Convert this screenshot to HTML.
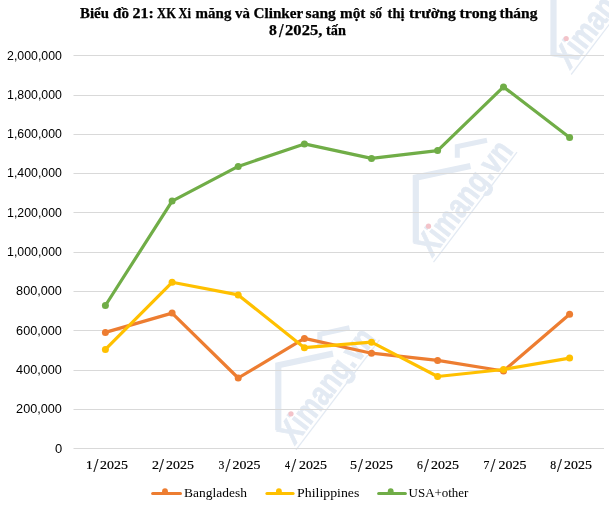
<!DOCTYPE html>
<html lang="vi"><head><meta charset="utf-8"><title>Biểu đồ 21</title><style>
html,body{margin:0;padding:0;background:#fff;}
body{width:609px;height:509px;overflow:hidden;position:relative;}
svg{position:absolute;left:0;top:0;display:block;will-change:transform;}
.t{font-family:"Liberation Serif",serif;font-weight:bold;font-size:14px;fill:#000;stroke:#000;stroke-width:0.25px;}
.yl{font-family:"Liberation Sans",sans-serif;font-size:12.5px;fill:#000;}
.xl{font-family:"Liberation Serif",serif;font-size:13.3px;fill:#000;stroke:#000;stroke-width:0.2px;}
.sl{font-size:18px;}
.wm{font-family:"Liberation Sans",sans-serif;font-weight:bold;font-size:34px;fill:#e3eaf3;stroke:#e3eaf3;stroke-width:0.8px;}
.lg{font-family:"Liberation Serif",serif;font-size:13px;fill:#000;}
</style></head><body>
<svg width="609" height="509" viewBox="0 0 609 509">
<rect width="609" height="509" fill="#fff"/>
<g transform="translate(291.0,413.8)">
<polyline points="-12.7,16.5 -12.7,-48.6 42,-60.2" fill="none" stroke="#e3eaf3" stroke-width="6.2" stroke-linejoin="miter"/>
<polyline points="28.8,-68.5 28.8,-79.6 58.5,-86" fill="none" stroke="#e3eaf3" stroke-width="5" stroke-linejoin="miter"/>
<line x1="5.0" y1="36.0" x2="88.5" y2="-74.0" stroke="#e3eaf3" stroke-width="1.3"/>
<text transform="translate(3.5,32.1) rotate(-52.5)" class="wm" textLength="135" lengthAdjust="spacingAndGlyphs">Ximang.vn</text>
<circle cx="0" cy="0" r="2.6" fill="#f3c3c9"/>
</g>
<g transform="translate(428.5,226.2)">
<polyline points="-12.7,16.5 -12.7,-48.6 42,-60.2" fill="none" stroke="#e3eaf3" stroke-width="6.2" stroke-linejoin="miter"/>
<polyline points="28.8,-68.5 28.8,-79.6 58.5,-86" fill="none" stroke="#e3eaf3" stroke-width="5" stroke-linejoin="miter"/>
<line x1="5.0" y1="36.0" x2="88.5" y2="-74.0" stroke="#e3eaf3" stroke-width="1.3"/>
<text transform="translate(3.5,32.1) rotate(-52.5)" class="wm" textLength="135" lengthAdjust="spacingAndGlyphs">Ximang.vn</text>
<circle cx="0" cy="0" r="2.6" fill="#f3c3c9"/>
</g>
<g transform="translate(566.2,38.5)">
<polyline points="-12.7,16.5 -12.7,-48.6 42,-60.2" fill="none" stroke="#e3eaf3" stroke-width="6.2" stroke-linejoin="miter"/>
<polyline points="28.8,-68.5 28.8,-79.6 58.5,-86" fill="none" stroke="#e3eaf3" stroke-width="5" stroke-linejoin="miter"/>
<line x1="5.0" y1="36.0" x2="88.5" y2="-74.0" stroke="#e3eaf3" stroke-width="1.3"/>
<text transform="translate(3.5,32.1) rotate(-52.5)" class="wm" textLength="135" lengthAdjust="spacingAndGlyphs">Ximang.vn</text>
<circle cx="0" cy="0" r="2.6" fill="#f3c3c9"/>
</g>

<line x1="73.5" y1="448.5" x2="604.0" y2="448.5" stroke="#D9D9D9" stroke-width="1"/>
<line x1="73.5" y1="409.5" x2="604.0" y2="409.5" stroke="#D9D9D9" stroke-width="1"/>
<line x1="73.5" y1="370.5" x2="604.0" y2="370.5" stroke="#D9D9D9" stroke-width="1"/>
<line x1="73.5" y1="330.5" x2="604.0" y2="330.5" stroke="#D9D9D9" stroke-width="1"/>
<line x1="73.5" y1="291.5" x2="604.0" y2="291.5" stroke="#D9D9D9" stroke-width="1"/>
<line x1="73.5" y1="252.5" x2="604.0" y2="252.5" stroke="#D9D9D9" stroke-width="1"/>
<line x1="73.5" y1="212.5" x2="604.0" y2="212.5" stroke="#D9D9D9" stroke-width="1"/>
<line x1="73.5" y1="173.5" x2="604.0" y2="173.5" stroke="#D9D9D9" stroke-width="1"/>
<line x1="73.5" y1="134.5" x2="604.0" y2="134.5" stroke="#D9D9D9" stroke-width="1"/>
<line x1="73.5" y1="95.5" x2="604.0" y2="95.5" stroke="#D9D9D9" stroke-width="1"/>
<line x1="73.5" y1="55.5" x2="604.0" y2="55.5" stroke="#D9D9D9" stroke-width="1"/>

<text y="17.6" class="t"><tspan x="80.08" textLength="28.84" lengthAdjust="spacingAndGlyphs">Biểu</tspan> <tspan x="113.06" textLength="15.89" lengthAdjust="spacingAndGlyphs">đồ</tspan> <tspan x="132.59" textLength="21.37" lengthAdjust="spacingAndGlyphs">21:</tspan> <tspan x="157.11" textLength="18.82" lengthAdjust="spacingAndGlyphs">XK</tspan> <tspan x="178.56" textLength="12.39" lengthAdjust="spacingAndGlyphs">Xi</tspan> <tspan x="195.59" textLength="35.82" lengthAdjust="spacingAndGlyphs">măng</tspan> <tspan x="235.07" textLength="14.85" lengthAdjust="spacingAndGlyphs">và</tspan> <tspan x="253.60" textLength="49.30" lengthAdjust="spacingAndGlyphs">Clinker</tspan> <tspan x="305.60" textLength="30.31" lengthAdjust="spacingAndGlyphs">sang</tspan> <tspan x="340.10" textLength="25.31" lengthAdjust="spacingAndGlyphs">một</tspan> <tspan x="370.12" textLength="11.83" lengthAdjust="spacingAndGlyphs">số</tspan> <tspan x="387.60" textLength="16.84" lengthAdjust="spacingAndGlyphs">thị</tspan> <tspan x="409.11" textLength="46.81" lengthAdjust="spacingAndGlyphs">trường</tspan> <tspan x="459.59" textLength="36.83" lengthAdjust="spacingAndGlyphs">trong</tspan> <tspan x="499.59" textLength="37.81" lengthAdjust="spacingAndGlyphs">tháng</tspan></text>
<text y="34.7" class="t"><tspan x="269.13" textLength="7.84" lengthAdjust="spacingAndGlyphs">8</tspan><tspan x="279.04" y="37.3" style="font-size:18px" textLength="4.54" lengthAdjust="spacingAndGlyphs">/</tspan><tspan y="34.7" x="285.09" textLength="37.32" lengthAdjust="spacingAndGlyphs">2025,</tspan> <tspan x="326.11" textLength="19.82" lengthAdjust="spacingAndGlyphs">tấn</tspan></text>

<text x="54.90" y="453" class="yl" textLength="7.19" lengthAdjust="spacingAndGlyphs">0</text>
<text x="16.09" y="413" class="yl" textLength="45.81" lengthAdjust="spacingAndGlyphs">200,000</text>
<text x="16.09" y="374" class="yl" textLength="45.81" lengthAdjust="spacingAndGlyphs">400,000</text>
<text x="16.09" y="335" class="yl" textLength="45.81" lengthAdjust="spacingAndGlyphs">600,000</text>
<text x="16.09" y="295" class="yl" textLength="45.81" lengthAdjust="spacingAndGlyphs">800,000</text>
<text x="7.10" y="256" class="yl" textLength="54.81" lengthAdjust="spacingAndGlyphs">1,000,000</text>
<text x="7.10" y="217" class="yl" textLength="54.81" lengthAdjust="spacingAndGlyphs">1,200,000</text>
<text x="7.10" y="177" class="yl" textLength="54.81" lengthAdjust="spacingAndGlyphs">1,400,000</text>
<text x="7.10" y="138" class="yl" textLength="54.81" lengthAdjust="spacingAndGlyphs">1,600,000</text>
<text x="7.10" y="99" class="yl" textLength="54.81" lengthAdjust="spacingAndGlyphs">1,800,000</text>
<text x="7.10" y="60" class="yl" textLength="54.81" lengthAdjust="spacingAndGlyphs">2,000,000</text>

<text y="469" class="xl"><tspan x="86.1">1</tspan><tspan x="93.61" y="472.4" class="sl" textLength="4.87" lengthAdjust="spacingAndGlyphs">/</tspan><tspan x="100.10" y="469" textLength="27.80" lengthAdjust="spacingAndGlyphs">2025</tspan></text>
<text y="469" class="xl"><tspan x="152.00" textLength="7.03" lengthAdjust="spacingAndGlyphs">2</tspan><tspan x="159.10" y="472.4" class="sl" textLength="4.87" lengthAdjust="spacingAndGlyphs">/</tspan><tspan x="166.10" y="469" textLength="27.80" lengthAdjust="spacingAndGlyphs">2025</tspan></text>
<text y="469" class="xl"><tspan x="218.62" textLength="5.86" lengthAdjust="spacingAndGlyphs">3</tspan><tspan x="225.54" y="472.4" class="sl" textLength="4.87" lengthAdjust="spacingAndGlyphs">/</tspan><tspan x="232.60" y="469" textLength="27.80" lengthAdjust="spacingAndGlyphs">2025</tspan></text>
<text y="469" class="xl"><tspan x="284.97" textLength="5.02" lengthAdjust="spacingAndGlyphs">4</tspan><tspan x="291.14" y="472.4" class="sl" textLength="4.87" lengthAdjust="spacingAndGlyphs">/</tspan><tspan x="299.10" y="469" textLength="27.80" lengthAdjust="spacingAndGlyphs">2025</tspan></text>
<text y="469" class="xl"><tspan x="349.94" textLength="7.03" lengthAdjust="spacingAndGlyphs">5</tspan><tspan x="358.03" y="472.4" class="sl" textLength="4.87" lengthAdjust="spacingAndGlyphs">/</tspan><tspan x="365.10" y="469" textLength="27.80" lengthAdjust="spacingAndGlyphs">2025</tspan></text>
<text y="469" class="xl"><tspan x="417.03" textLength="5.86" lengthAdjust="spacingAndGlyphs">6</tspan><tspan x="424.00" y="472.4" class="sl" textLength="4.87" lengthAdjust="spacingAndGlyphs">/</tspan><tspan x="431.06" y="469" textLength="27.88" lengthAdjust="spacingAndGlyphs">2025</tspan></text>
<text y="469" class="xl"><tspan x="483.62" textLength="5.86" lengthAdjust="spacingAndGlyphs">7</tspan><tspan x="490.54" y="472.4" class="sl" textLength="4.87" lengthAdjust="spacingAndGlyphs">/</tspan><tspan x="498.60" y="469" textLength="27.80" lengthAdjust="spacingAndGlyphs">2025</tspan></text>
<text y="469" class="xl"><tspan x="550.13" textLength="5.86" lengthAdjust="spacingAndGlyphs">8</tspan><tspan x="557.03" y="472.4" class="sl" textLength="4.87" lengthAdjust="spacingAndGlyphs">/</tspan><tspan x="564.10" y="469" textLength="27.80" lengthAdjust="spacingAndGlyphs">2025</tspan></text>

<polyline points="105.4,332.4 172.1,313.1 238.2,378.0 304.4,338.4 371.5,353.2 437.6,360.4 503.5,371.0 569.6,314.3" fill="none" stroke="#ED7D31" stroke-width="3.2" stroke-linejoin="round" stroke-linecap="round"/>
<circle cx="105.4" cy="332.4" r="3.5" fill="#ED7D31"/>
<circle cx="172.1" cy="313.1" r="3.5" fill="#ED7D31"/>
<circle cx="238.2" cy="378.0" r="3.5" fill="#ED7D31"/>
<circle cx="304.4" cy="338.4" r="3.5" fill="#ED7D31"/>
<circle cx="371.5" cy="353.2" r="3.5" fill="#ED7D31"/>
<circle cx="437.6" cy="360.4" r="3.5" fill="#ED7D31"/>
<circle cx="503.5" cy="371.0" r="3.5" fill="#ED7D31"/>
<circle cx="569.6" cy="314.3" r="3.5" fill="#ED7D31"/>

<polyline points="105.4,349.4 172.1,282.3 238.2,294.9 304.4,347.7 371.5,342.2 437.6,376.5 503.5,369.5 569.6,358.1" fill="none" stroke="#FFC000" stroke-width="3.2" stroke-linejoin="round" stroke-linecap="round"/>
<circle cx="105.4" cy="349.4" r="3.5" fill="#FFC000"/>
<circle cx="172.1" cy="282.3" r="3.5" fill="#FFC000"/>
<circle cx="238.2" cy="294.9" r="3.5" fill="#FFC000"/>
<circle cx="304.4" cy="347.7" r="3.5" fill="#FFC000"/>
<circle cx="371.5" cy="342.2" r="3.5" fill="#FFC000"/>
<circle cx="437.6" cy="376.5" r="3.5" fill="#FFC000"/>
<circle cx="503.5" cy="369.5" r="3.5" fill="#FFC000"/>
<circle cx="569.6" cy="358.1" r="3.5" fill="#FFC000"/>

<polyline points="105.4,305.5 172.1,201.1 238.2,166.4 304.4,143.9 371.5,158.4 437.6,150.6 503.5,86.9 569.6,137.4" fill="none" stroke="#70AD47" stroke-width="3.2" stroke-linejoin="round" stroke-linecap="round"/>
<circle cx="105.4" cy="305.5" r="3.5" fill="#70AD47"/>
<circle cx="172.1" cy="201.1" r="3.5" fill="#70AD47"/>
<circle cx="238.2" cy="166.4" r="3.5" fill="#70AD47"/>
<circle cx="304.4" cy="143.9" r="3.5" fill="#70AD47"/>
<circle cx="371.5" cy="158.4" r="3.5" fill="#70AD47"/>
<circle cx="437.6" cy="150.6" r="3.5" fill="#70AD47"/>
<circle cx="503.5" cy="86.9" r="3.5" fill="#70AD47"/>
<circle cx="569.6" cy="137.4" r="3.5" fill="#70AD47"/>

<line x1="152.6" y1="493.4" x2="180.5" y2="493.4" stroke="#ED7D31" stroke-width="3" stroke-linecap="round"/>
<circle cx="165.0" cy="491.2" r="2.9" fill="#ED7D31"/>
<text x="184.10" y="496.7" class="lg" textLength="62.80" lengthAdjust="spacingAndGlyphs">Bangladesh</text>
<line x1="266.9" y1="493.4" x2="293.1" y2="493.4" stroke="#FFC000" stroke-width="3" stroke-linecap="round"/>
<circle cx="278.9" cy="491.2" r="2.9" fill="#FFC000"/>
<text x="297.10" y="496.7" class="lg" textLength="62.31" lengthAdjust="spacingAndGlyphs">Philippines</text>
<line x1="378.6" y1="493.4" x2="405.4" y2="493.4" stroke="#70AD47" stroke-width="3" stroke-linecap="round"/>
<circle cx="390.7" cy="491.2" r="2.9" fill="#70AD47"/>
<text x="408.60" y="496.7" class="lg" textLength="59.81" lengthAdjust="spacingAndGlyphs">USA+other</text>

</svg>
</body></html>
